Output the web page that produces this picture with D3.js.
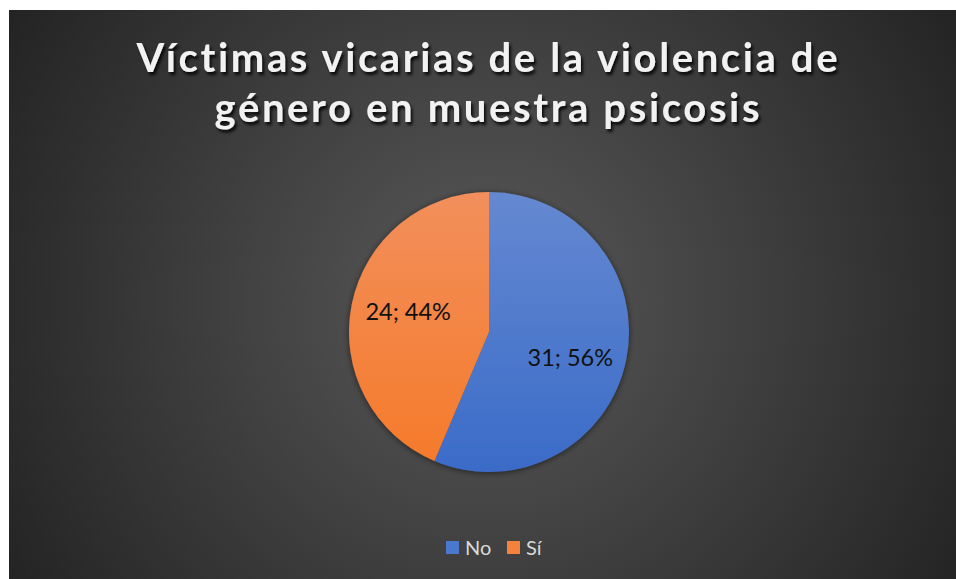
<!DOCTYPE html>
<html><head><meta charset="utf-8">
<script src="https://cdn.jsdelivr.net/npm/d3@7"></script>
<style>html,body{margin:0;padding:0;background:#fff;}svg{display:block;}text{font-variant-ligatures:none;}</style>
</head><body>
<script>
const titleLines = ["Víctimas vicarias de la violencia de", "género en muestra psicosis"];
const categories = ["No", "Sí"];
const values = [31, 24];
const colorsLight = ["#6589d1", "#f28f5c"];
const colorsDark = ["#3a6bc8", "#f57a29"];

const W = 956, H = 579;
const svg = d3.select("body").append("svg").attr("width", W).attr("height", H);
const defs = svg.append("defs");

const bg = defs.append("radialGradient").attr("id", "bg")
  .attr("gradientUnits", "userSpaceOnUse").attr("cx", 485).attr("cy", 300).attr("r", 560);
bg.append("stop").attr("offset", "0").attr("stop-color", "#595959");
bg.append("stop").attr("offset", "1").attr("stop-color", "#232323");

const shadow = defs.append("filter").attr("id", "tshadow").attr("x", "-10%").attr("y", "-20%").attr("width", "120%").attr("height", "150%");
shadow.append("feDropShadow").attr("dx", 2).attr("dy", 3).attr("stdDeviation", 1.6).attr("flood-color", "#000").attr("flood-opacity", 0.85);

const pshadow = defs.append("filter").attr("id", "pshadow").attr("x", "-20%").attr("y", "-20%").attr("width", "140%").attr("height", "140%");
pshadow.append("feDropShadow").attr("dx", 0).attr("dy", 1).attr("stdDeviation", 3).attr("flood-color", "#000").attr("flood-opacity", 0.55);

const R = 140;
categories.forEach((c, i) => {
  const g = defs.append("linearGradient").attr("id", "g" + i)
    .attr("gradientUnits", "userSpaceOnUse").attr("x1", 0).attr("y1", -R).attr("x2", 0).attr("y2", R);
  g.append("stop").attr("offset", "0").attr("stop-color", colorsLight[i]);
  g.append("stop").attr("offset", "1").attr("stop-color", colorsDark[i]);
});

svg.append("rect").attr("x", 9).attr("y", 10).attr("width", W - 9).attr("height", H - 10).attr("fill", "url(#bg)");

// Title
const tl = [{t: titleLines[0], y: 72, w: 701}, {t: titleLines[1], y: 122, w: 545}];
svg.append("g").attr("filter", "url(#tshadow)").selectAll("text").data(tl).join("text")
  .attr("x", 487).attr("y", d => d.y).attr("text-anchor", "middle")
  .attr("font-family", "Lato, 'Open Sans', sans-serif").attr("font-weight", "bold")
  .attr("font-size", 40).attr("fill", "#f2f2f2")
  .attr("textLength", d => d.w).attr("lengthAdjust", "spacing")
  .text(d => d.t);

// Pie
const cx = 489, cy = 332;
const pie = d3.pie().sort(null).value(d => d)(values);
const arc = d3.arc().innerRadius(0).outerRadius(R);
const total = d3.sum(values);
const pg = svg.append("g").attr("transform", `translate(${cx},${cy})`);
pg.append("g").attr("filter", "url(#pshadow)").selectAll("path").data(pie).join("path")
  .attr("d", arc).attr("fill", (d, i) => `url(#g${i})`);

// labels
const labelArc = d3.arc().innerRadius(R * 0.6).outerRadius(R * 0.6);
const lblOff = [[-1, 8], [1.5, -4]];
pg.selectAll("text.lbl").data(pie).join("text").attr("class", "lbl")
  .attr("transform", (d, i) => {
    const p = labelArc.centroid(d);
    return `translate(${p[0] + lblOff[i][0]},${p[1] + lblOff[i][1]})`;
  })
  .attr("text-anchor", "middle").attr("dominant-baseline", "central")
  .attr("font-family", "Lato, 'Open Sans', sans-serif").attr("font-size", 23.5).attr("fill", "#111")
  .text(d => `${d.data}; ${Math.round(d.data / total * 100)}%`);

// Legend
const leg = svg.append("g");
const legX = [446, 507];
categories.forEach((c, i) => {
  leg.append("rect").attr("x", legX[i]).attr("y", 541).attr("width", 13).attr("height", 13)
    .attr("fill", i === 0 ? "#4a78cc" : "#f4823c");
  leg.append("text").attr("x", legX[i] + 19).attr("y", 555)
    .attr("font-family", "Lato, 'Open Sans', sans-serif").attr("font-size", 20).attr("fill", "#d9d9d9")
    .text(c);
});
</script>
</body></html>
